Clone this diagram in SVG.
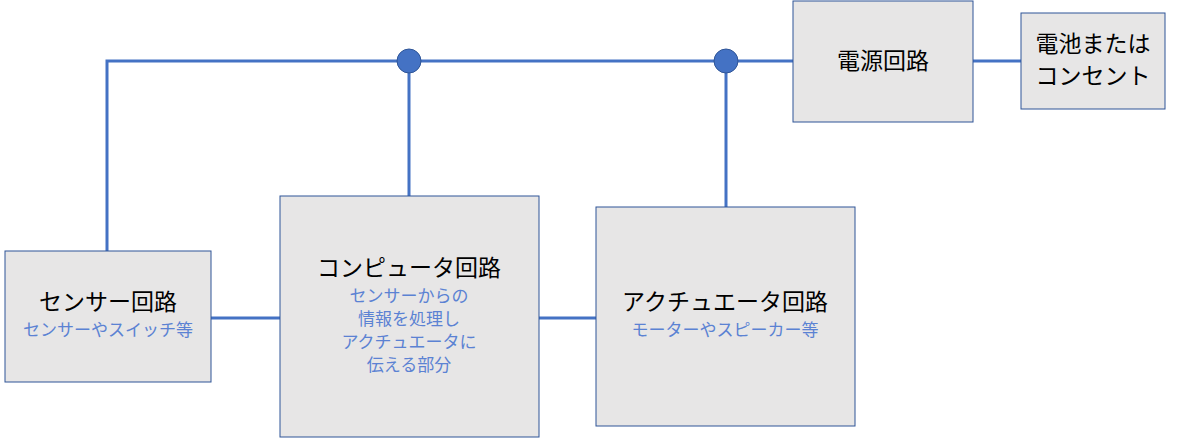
<svg xmlns="http://www.w3.org/2000/svg" width="1179" height="439" viewBox="0 0 1179 439">
<style>
.box{fill:#E7E6E6;stroke:#2F5597;stroke-width:1}
.ln{stroke:#4472C4;stroke-width:3;fill:none}
.t{font-family:"Noto Sans CJK JP",sans-serif;font-size:23px;fill:#000;text-anchor:middle}
.s{font-family:"Noto Sans CJK JP",sans-serif;font-size:17px;fill:#5B82D3;text-anchor:middle}
.dot{fill:#4472C4;stroke:#2F5597;stroke-width:1}
</style>
<rect width="1179" height="439" fill="#fff"/>
<g id="connectors">
<path class="ln" d="M107 251V61H793M409 61V196M726 61V207M973 61H1021M211 318H280M539 318H596"/>
<circle class="dot" cx="409" cy="61" r="12"/>
<circle class="dot" cx="726" cy="61" r="12"/>
</g>
<g id="power"><rect class="box" x="793" y="1" width="180" height="121"/><text class="t" x="883" y="69">電源回路</text></g>
<g id="battery"><rect class="box" x="1021" y="13" width="144" height="96"/><text class="t" x="1093" y="52">電池または</text><text class="t" x="1093" y="84">コンセント</text></g>
<g id="sensor"><rect class="box" x="5" y="251" width="206" height="131"/><text class="t" x="108" y="310">センサー回路</text><text class="s" x="108" y="336">センサーやスイッチ等</text></g>
<g id="computer"><rect class="box" x="280" y="196" width="259" height="241"/><text class="t" x="409" y="276">コンピュータ回路</text><text class="s" x="409" y="302">センサーからの</text><text class="s" x="409" y="325">情報を処理し</text><text class="s" x="409" y="348">アクチュエータに</text><text class="s" x="409" y="371">伝える部分</text></g>
<g id="actuator"><rect class="box" x="596" y="207" width="259" height="219"/><text class="t" x="725" y="310">アクチュエータ回路</text><text class="s" x="725" y="336">モーターやスピーカー等</text></g>
</svg>
